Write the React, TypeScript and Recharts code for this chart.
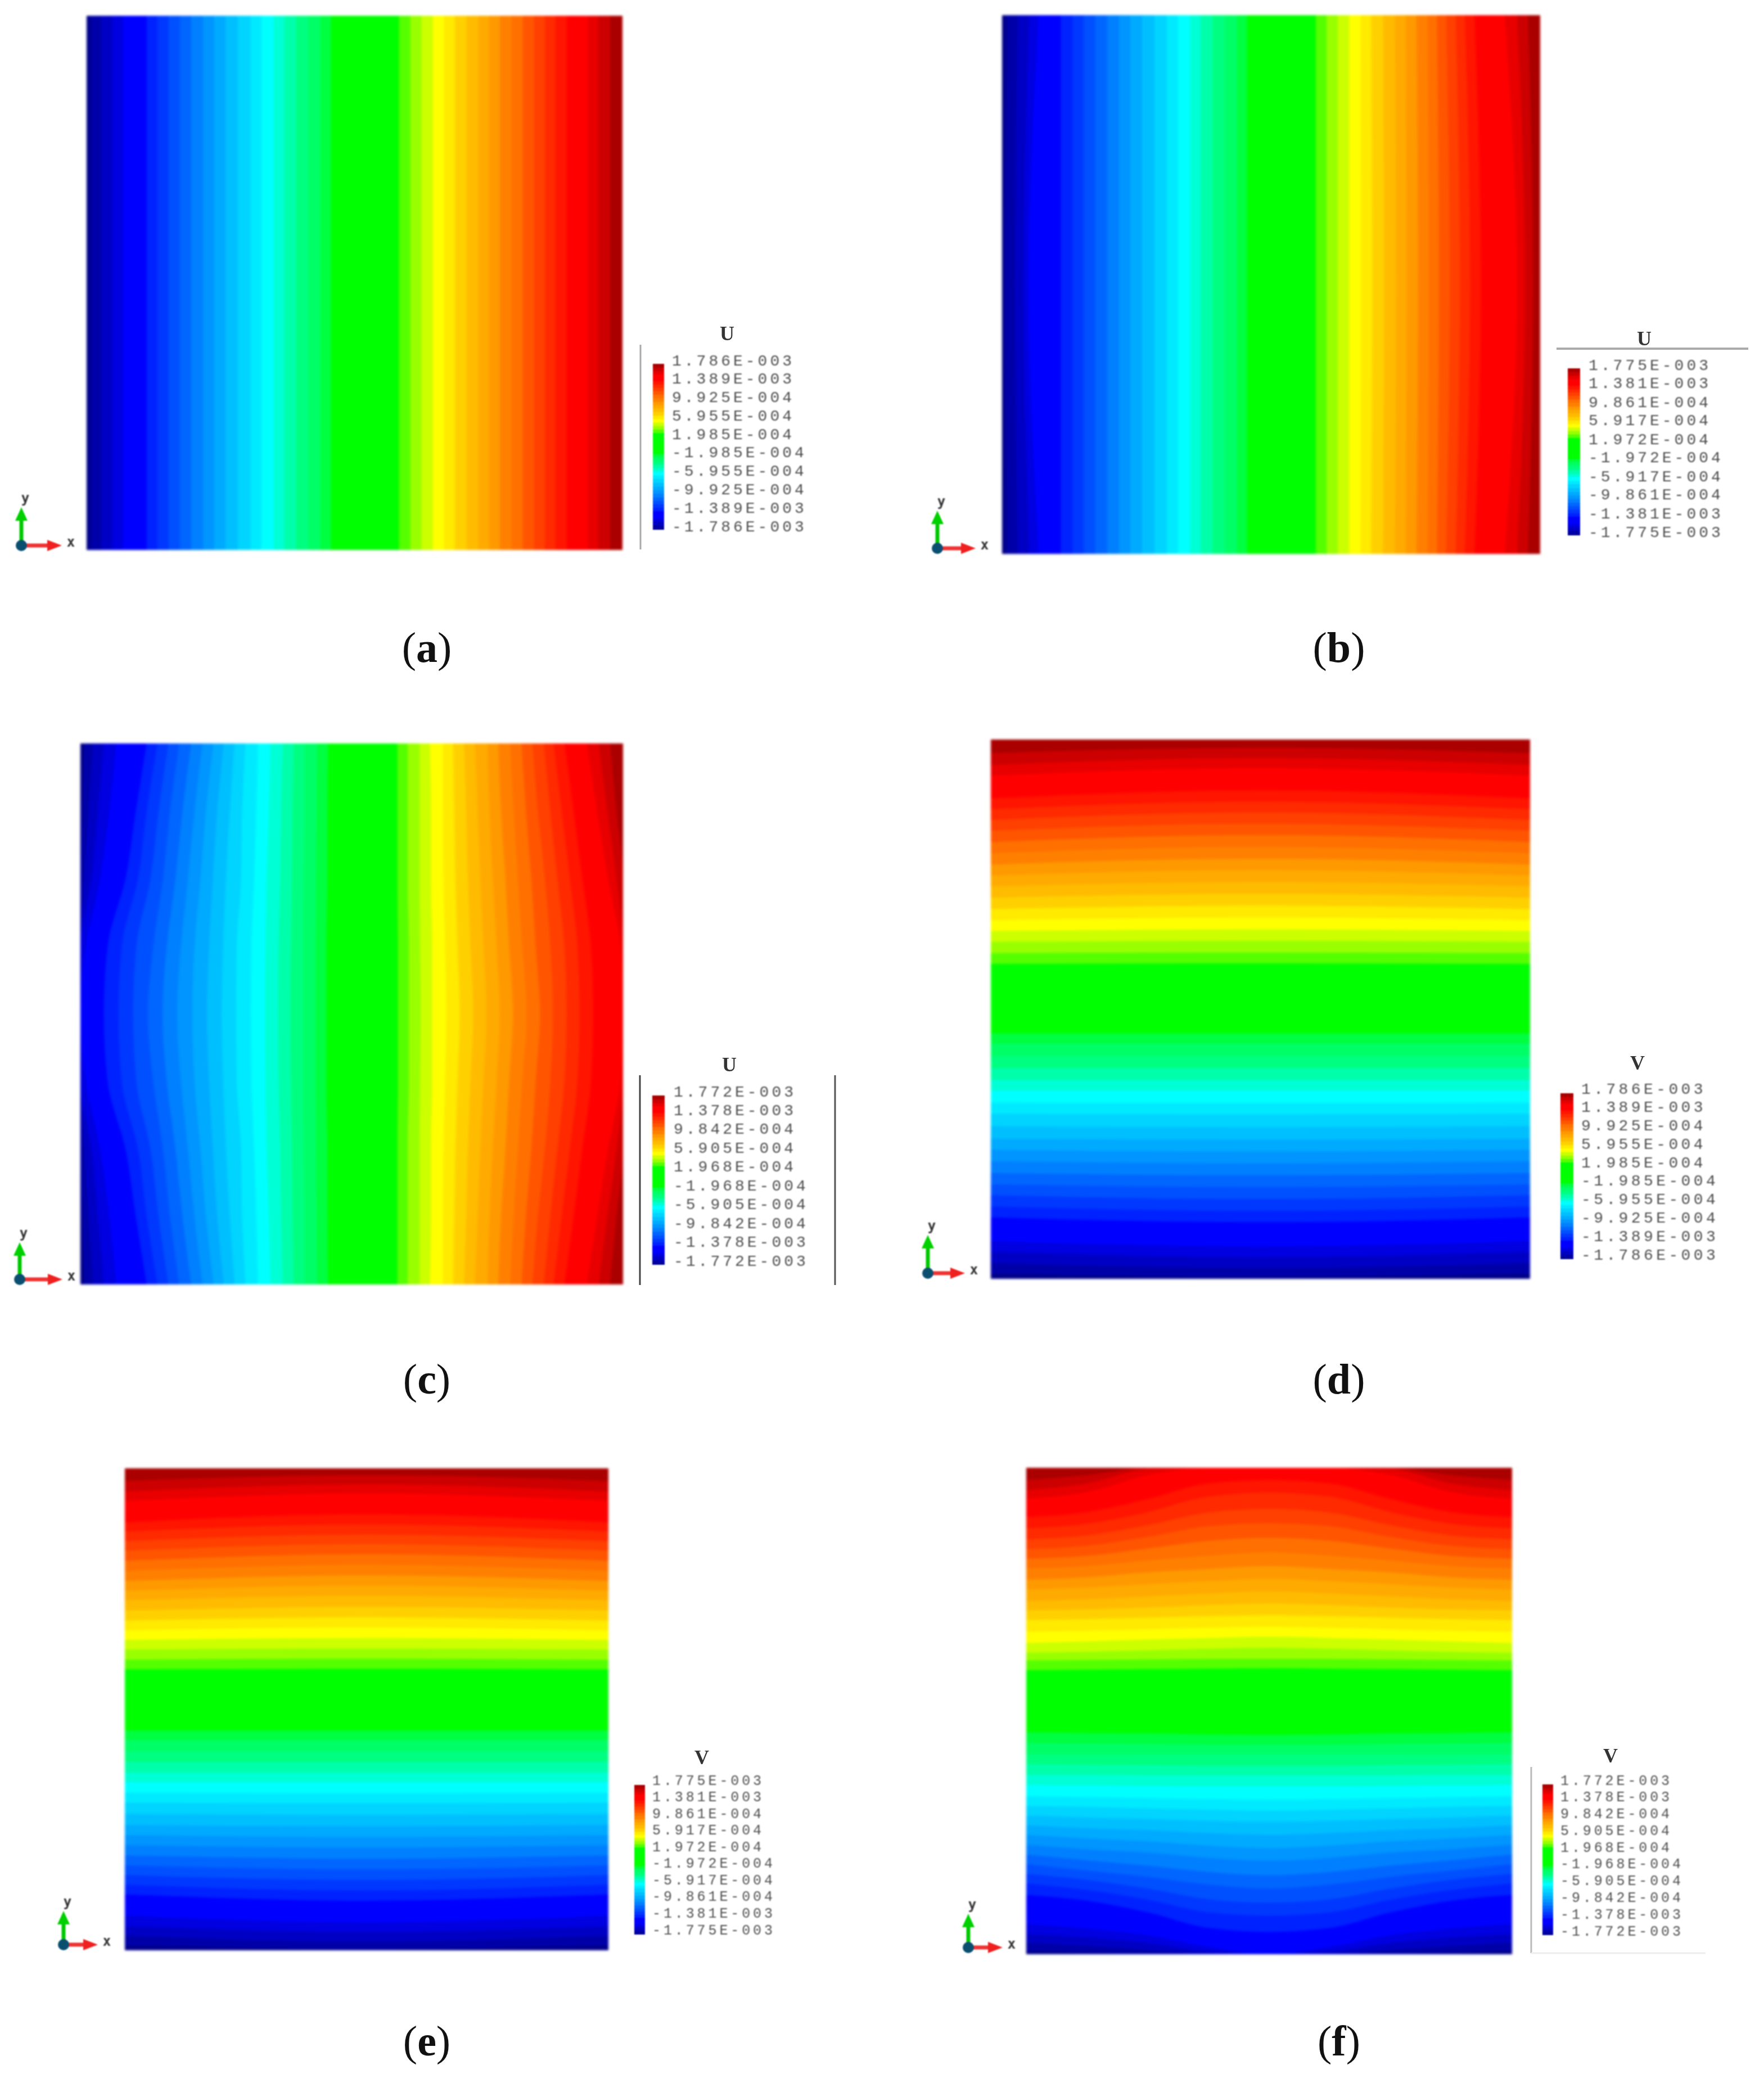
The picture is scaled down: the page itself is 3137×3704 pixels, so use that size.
import { Area, ComposedChart, XAxis, YAxis } from "recharts";

// contour palette, low to high
const bandColors = [
  "#000088", "#0000a8", "#0000c4", "#0000e0", "#0000ff", "#0022ff", "#0038ff", "#0050ff", "#0066ff", "#0080ff",
  "#0095ff", "#00aaff", "#00bfff", "#00d4ff", "#00eaff", "#00ffff", "#00ffd5", "#00ffaa", "#00ff80", "#00ff66",
  "#00ff40", "#00ff00", "#55ff00", "#99ff00", "#ccff00", "#ffff00", "#ffea00", "#ffd000", "#ffbb00", "#ffaa00",
  "#ff9900", "#ff8000", "#ff7000", "#ff5500", "#ff4000", "#ff2a00", "#ff1500", "#ff0000", "#e80000", "#cc0000",
  "#aa0000",
];

// where each band starts across the plate (0-1000), one row per station along it
const straightEdges = [0, 7, 27, 48, 68, 112, 132, 153, 174, 195, 217, 238, 259, 282, 306, 326, 349, 369, 391, 413, 436, 456, 583, 604, 625, 646, 667, 687, 709, 731, 751, 771, 793, 814, 835, 855, 875, 896, 935, 955, 977];

const stationsA = [0, 1000];
const edgesA = [straightEdges, straightEdges];

const stationsB = [0, 500, 1000];
const edgesB = [
  [0, 9, 29, 50, 68, 109, 131, 152, 173, 195, 217, 238, 260, 283, 306, 327, 349, 369, 391, 413, 436, 455, 583, 603, 624, 645, 666, 686, 708, 730, 750, 770, 790, 808, 825, 843, 860, 878, 934, 957, 977],
  [0, 5, 24, 40, 49, 109, 131, 152, 173, 195, 217, 238, 260, 283, 306, 327, 349, 369, 391, 413, 436, 455, 583, 603, 624, 645, 667, 688, 710, 732, 752, 773, 793, 812, 832, 851, 870, 890, 957, 972, 987],
  [0, 9, 29, 50, 68, 109, 131, 152, 173, 195, 217, 238, 260, 283, 306, 327, 349, 369, 391, 413, 436, 455, 583, 603, 624, 645, 666, 686, 708, 730, 750, 770, 790, 808, 825, 843, 860, 878, 934, 957, 977],
];

const stationsC = [0, 125, 250, 375, 500, 625, 750, 875, 1000];
const edgesCEnd = [0, 7, 23, 43, 66, 122, 142, 162, 182, 204, 225, 245, 264, 284, 304, 327, 350, 373, 393, 413, 436, 456, 584, 603, 625, 644, 668, 687, 707, 727, 750, 770, 792, 813, 833, 854, 872, 892, 933, 955, 976];
const edgesCNearEnd = [0, 3, 15, 32, 53, 102, 122, 144, 165, 188, 210, 231, 252, 275, 298, 324, 347, 370, 391, 413, 435, 455, 584, 603, 625, 646, 668, 689, 711, 732, 754, 775, 798, 821, 843, 866, 887, 909, 952, 971, 988];
const edgesCQuarter = [0, 0, 7, 20, 36, 83, 106, 129, 152, 175, 198, 221, 244, 268, 296, 320, 343, 368, 390, 411, 434, 455, 584, 603, 625, 646, 669, 691, 714, 737, 760, 783, 806, 831, 856, 879, 902, 925, 972, 988, 1000];
const edgesCNearMid = [0, 0, 0, 0, 10, 50, 76, 103, 134, 159, 185, 210, 237, 263, 288, 315, 341, 365, 388, 410, 433, 453, 585, 605, 626, 648, 672, 695, 719, 743, 767, 790, 814, 839, 866, 892, 916, 941, 995, 1000, 1000];
const edgesCMid = [0, 0, 0, 0, 0, 43, 70, 97, 124, 151, 178, 206, 233, 260, 287, 314, 340, 364, 387, 410, 433, 453, 585, 605, 627, 648, 674, 699, 724, 748, 773, 797, 822, 847, 871, 896, 920, 945, 1000, 1000, 1000];
const edgesC = [edgesCEnd, edgesCNearEnd, edgesCQuarter, edgesCNearMid, edgesCMid, edgesCNearMid, edgesCQuarter, edgesCNearEnd, edgesCEnd];

const stationsD = [0, 500, 1000];
const edgesDSide = [0, 9, 29, 50, 70, 114, 134, 155, 175, 196, 218, 239, 260, 283, 306, 327, 349, 369, 391, 413, 436, 455, 584, 604, 625, 645, 665, 686, 707, 728, 748, 768, 789, 810, 831, 851, 871, 891, 933, 953, 975];
const edgesDMid = [0, 4, 20, 40, 60, 105, 126, 148, 170, 192, 214, 236, 258, 281, 305, 326, 349, 369, 391, 413, 436, 455, 585, 605, 627, 648, 670, 692, 714, 736, 758, 779, 801, 823, 844, 865, 885, 906, 947, 966, 985];
const edgesD = [edgesDSide, edgesDMid, edgesDSide];

const stationsE = [0, 500, 1000];
const edgesESide = [0, 10, 30, 50, 72, 116, 136, 156, 176, 197, 218, 239, 260, 283, 306, 327, 349, 369, 391, 413, 436, 456, 583, 603, 624, 644, 664, 684, 705, 726, 746, 766, 787, 808, 829, 849, 869, 888, 932, 952, 974];
const edgesEMid = [0, 3, 18, 38, 58, 103, 124, 146, 168, 190, 213, 235, 257, 281, 305, 326, 349, 369, 391, 413, 436, 456, 584, 605, 626, 648, 670, 691, 713, 736, 757, 778, 800, 822, 843, 863, 884, 905, 948, 967, 986];
const edgesE = [edgesESide, edgesEMid, edgesESide];

const stationsF = [0, 125, 250, 375, 500, 625, 750, 875, 1000];
const edgesFSide = [0, 7, 24, 42, 62, 122, 145, 165, 185, 205, 225, 245, 265, 285, 305, 325, 348, 369, 391, 411, 434, 456, 584, 604, 620, 640, 663, 687, 707, 726, 750, 770, 793, 813, 833, 853, 876, 899, 936, 954, 975];
const edgesFNearSide = [0, 3, 17, 34, 53, 110, 132, 153, 172, 193, 216, 238, 259, 281, 303, 323, 347, 369, 390, 411, 433, 455, 585, 605, 622, 643, 665, 689, 709, 730, 754, 775, 798, 819, 840, 861, 885, 909, 950, 968, 985];
const edgesFQuarter = [0, 0, 9, 23, 39, 86, 112, 135, 159, 182, 209, 232, 255, 278, 300, 321, 346, 368, 389, 411, 432, 454, 586, 606, 625, 647, 668, 692, 713, 736, 761, 785, 809, 834, 858, 882, 909, 936, 985, 997, 1000];
const edgesFNearMid = [0, 0, 0, 5, 15, 54, 86, 113, 143, 169, 198, 223, 249, 274, 297, 319, 345, 368, 388, 411, 431, 452, 587, 607, 628, 650, 671, 695, 718, 742, 767, 792, 819, 850, 880, 908, 941, 968, 1000, 1000, 1000];
const edgesFMid = [0, 0, 0, 0, 0, 46, 79, 106, 135, 162, 192, 218, 245, 272, 295, 318, 345, 368, 388, 411, 431, 451, 588, 607, 630, 653, 673, 697, 721, 746, 772, 798, 826, 856, 886, 916, 949, 975, 1000, 1000, 1000];
const edgesF = [edgesFSide, edgesFNearSide, edgesFQuarter, edgesFNearMid, edgesFMid, edgesFNearMid, edgesFQuarter, edgesFNearSide, edgesFSide];

// colour bar tick values, one list per panel pair
const legendValuesAD = [1.786e-3, 1.389e-3, 9.925e-4, 5.955e-4, 1.985e-4, -1.985e-4, -5.955e-4, -9.925e-4, -1.389e-3, -1.786e-3];
const legendValuesBE = [1.775e-3, 1.381e-3, 9.861e-4, 5.917e-4, 1.972e-4, -1.972e-4, -5.917e-4, -9.861e-4, -1.381e-3, -1.775e-3];
const legendValuesCF = [1.772e-3, 1.378e-3, 9.842e-4, 5.905e-4, 1.968e-4, -1.968e-4, -5.905e-4, -9.842e-4, -1.378e-3, -1.772e-3];

const buildRows = (stations: number[], edges: number[][]) =>
  stations.map((station, s) => {
    const row: Record<string, any> = { station };
    bandColors.forEach((_, b) => {
      // each band paints from its start to the far side, later bands cover it
      row[`b${b}`] = [edges[s][b], 1000];
    });
    return row;
  });

const buildBarRows = (max: number) =>
  stationsA.map((station) => {
    const row: Record<string, any> = { station };
    bandColors.forEach((_, b) => {
      row[`b${b}`] = [-max + (straightEdges[b] / 1000) * 2 * max, max];
    });
    return row;
  });

const formatTick = (v: number) => {
  const [m, e] = Math.abs(v).toExponential(3).split("e");
  const exp = Math.abs(Number(e)).toString().padStart(3, "0");
  return `${v < 0 ? "-" : ""}${m}E${Number(e) < 0 ? "-" : "+"}${exp}`;
};

const bands = (curve: "linear" | "monotone") =>
  bandColors.map((color, b) => (
    <Area
      key={color}
      dataKey={`b${b}`}
      type={curve}
      fill={color}
      fillOpacity={1}
      stroke="none"
      dot={false}
      activeDot={false}
      isAnimationActive={false}
    />
  ));

interface PlateProps {
  left: number;
  top: number;
  width: number;
  height: number;
  stations: number[];
  edges: number[][];
  across: boolean;
  curve: "linear" | "monotone";
}

function Plate({ left, top, width, height, stations, edges, across, curve }: PlateProps) {
  const data = buildRows(stations, edges);
  return (
    <div style={{ position: "absolute", left, top, width, height, filter: "blur(2px)" }}>
      {across ? (
        <ComposedChart width={width} height={height} data={data} layout="vertical" margin={{ top: 0, right: 0, bottom: 0, left: 0 }}>
          <XAxis type="number" domain={[0, 1000]} hide />
          <YAxis type="number" dataKey="station" domain={[0, 1000]} hide />
          {bands(curve)}
        </ComposedChart>
      ) : (
        <ComposedChart width={width} height={height} data={data} margin={{ top: 0, right: 0, bottom: 0, left: 0 }}>
          <XAxis type="number" dataKey="station" domain={[0, 1000]} hide />
          <YAxis type="number" domain={[0, 1000]} hide />
          {bands(curve)}
        </ComposedChart>
      )}
    </div>
  );
}

interface ColorBarProps {
  left: number;
  top: number;
  width: number;
  height: number;
  gap: number;
  shift: number;
  fontSize: number;
  spacing: number;
  values: number[];
}

function ColorBar({ left, top, width, height, gap, shift, fontSize, spacing, values }: ColorBarProps) {
  const pad = 40;
  const labelWidth = 300;
  const max = values[0];
  const data = buildBarRows(max);
  return (
    <div style={{ position: "absolute", left, top: top - pad, filter: "blur(0.8px)" }}>
      <ComposedChart width={width + labelWidth} height={height + pad * 2} data={data} margin={{ top: pad, right: 0, bottom: pad, left: 0 }}>
        <XAxis type="number" dataKey="station" domain={[0, 1000]} hide />
        <YAxis
          orientation="right"
          type="number"
          domain={[-max, max]}
          ticks={values}
          interval={0}
          width={labelWidth}
          axisLine={false}
          tickLine={false}
          tickSize={0}
          tickMargin={gap}
          tick={(p: any) => (
            <text
              x={p.x}
              y={p.y + shift}
              dominantBaseline="central"
              textAnchor="start"
              fontFamily="'Liberation Mono', monospace"
              fontSize={fontSize}
              letterSpacing={spacing}
              fill="#505050"
            >
              {formatTick(p.payload.value)}
            </text>
          )}
        />
        {bands("linear")}
      </ComposedChart>
    </div>
  );
}

function Triad({ x, y, up, right, fs = 24 }: { x: number; y: number; up: number; right: number; fs?: number }) {
  return (
    <g style={{ filter: "blur(1px)" }}>
      <line x1={x} y1={y} x2={x} y2={y - up + 18} stroke="#00c800" strokeWidth={7} />
      <polygon points={`${x},${y - up} ${x - 11},${y - up + 24} ${x + 11},${y - up + 24}`} fill="#00d000" />
      <line x1={x} y1={y} x2={x + right - 20} y2={y} stroke="#ee3333" strokeWidth={7} />
      <polygon points={`${x + right},${y} ${x + right - 26},${y - 10} ${x + right - 26},${y + 10}`} fill="#ee2020" />
      <circle cx={x} cy={y} r={10} fill="#0b4f70" />
      <text x={x + 7} y={y - up - 16} textAnchor="middle" dominantBaseline="central" fontFamily="'DejaVu Sans Mono', monospace" fontWeight={700} fontSize={fs} fill="#333">y</text>
      <text x={x + right + 16} y={y - 6} textAnchor="middle" dominantBaseline="central" fontFamily="'DejaVu Sans Mono', monospace" fontWeight={700} fontSize={fs} fill="#333">x</text>
    </g>
  );
}

function Caption({ x, y, letter }: { x: number; y: number; letter: string }) {
  return (
    <text x={x} y={y} textAnchor="middle" dominantBaseline="central" fontFamily="'Liberation Serif', serif" fontSize={76} fill="#111">
      (<tspan fontWeight={700}>{letter}</tspan>)
    </text>
  );
}

function Title({ x, y, label, size = 36 }: { x: number; y: number; label: string; size?: number }) {
  return (
    <text x={x} y={y} textAnchor="middle" dominantBaseline="central" fontFamily="'Liberation Serif', serif" fontWeight={700} fontSize={size} fill="#333" style={{ filter: "blur(0.6px)" }}>
      {label}
    </text>
  );
}

export default function App() {
  return (
    <div style={{ position: "absolute", left: 0, top: 0, width: 3137, height: 3704, background: "#fff", overflow: "hidden" }}>
      <Plate left={154} top={28} width={953} height={950} stations={stationsA} edges={edgesA} across curve="linear" />
      <Plate left={1782} top={27} width={957} height={958} stations={stationsB} edges={edgesB} across curve="monotone" />
      <Plate left={143} top={1322} width={965} height={962} stations={stationsC} edges={edgesC} across curve="monotone" />
      <Plate left={1762} top={1315} width={959} height={959} stations={stationsD} edges={edgesD} across={false} curve="monotone" />
      <Plate left={222} top={2611} width={860} height={857} stations={stationsE} edges={edgesE} across={false} curve="monotone" />
      <Plate left={1825} top={2610} width={864} height={865} stations={stationsF} edges={edgesF} across={false} curve="monotone" />

      <ColorBar left={1161} top={647} width={20} height={295} gap={14} shift={-5} fontSize={28} spacing={5} values={legendValuesAD} />
      <ColorBar left={2788} top={655} width={22} height={297} gap={15} shift={-5} fontSize={28} spacing={5} values={legendValuesBE} />
      <ColorBar left={1160} top={1948} width={22} height={301} gap={16} shift={-6} fontSize={28} spacing={5} values={legendValuesCF} />
      <ColorBar left={2775} top={1944} width={23} height={295} gap={14} shift={-7} fontSize={28} spacing={5.4} values={legendValuesAD} />
      <ColorBar left={1128} top={3174} width={19} height={266} gap={13} shift={-7} fontSize={25} spacing={4.9} values={legendValuesBE} />
      <ColorBar left={2743} top={3173} width={19} height={268} gap={13} shift={-6} fontSize={25} spacing={4.9} values={legendValuesCF} />

      <svg width={3137} height={3704} style={{ position: "absolute", left: 0, top: 0 }}>
        <line x1={1139} y1={613} x2={1139} y2={977} stroke="#aaa" strokeWidth={3} />
        <line x1={2768} y1={620} x2={3109} y2={620} stroke="#aaa" strokeWidth={4} />
        <line x1={1138} y1={1912} x2={1138} y2={2285} stroke="#444" strokeWidth={3} />
        <line x1={1485} y1={1912} x2={1485} y2={2285} stroke="#555" strokeWidth={3} />
        <line x1={2723} y1={3142} x2={2723} y2={3473} stroke="#bbb" strokeWidth={3} />
        <line x1={2723} y1={3473} x2={3033} y2={3473} stroke="#eee" strokeWidth={3} />

        <Title x={1293} y={593} label="U" />
        <Title x={2924} y={602} label="U" />
        <Title x={1297} y={1893} label="U" />
        <Title x={2912} y={1890} label="V" />
        <Title x={1248} y={3125} label="V" />
        <Title x={2864} y={3122} label="V" />

        <Triad x={38} y={970} up={68} right={72} />
        <Triad x={1667} y={975} up={67} right={68} />
        <Triad x={35} y={2275} up={66} right={76} />
        <Triad x={1650} y={2264} up={68} right={66} />
        <Triad x={113} y={3458} up={60} right={61} />
        <Triad x={1722} y={3463} up={60} right={61} />

        <Caption x={759} y={1151} letter="a" />
        <Caption x={2381} y={1151} letter="b" />
        <Caption x={759} y={2452} letter="c" />
        <Caption x={2381} y={2452} letter="d" />
        <Caption x={759} y={3629} letter="e" />
        <Caption x={2381} y={3629} letter="f" />
      </svg>
    </div>
  );
}
